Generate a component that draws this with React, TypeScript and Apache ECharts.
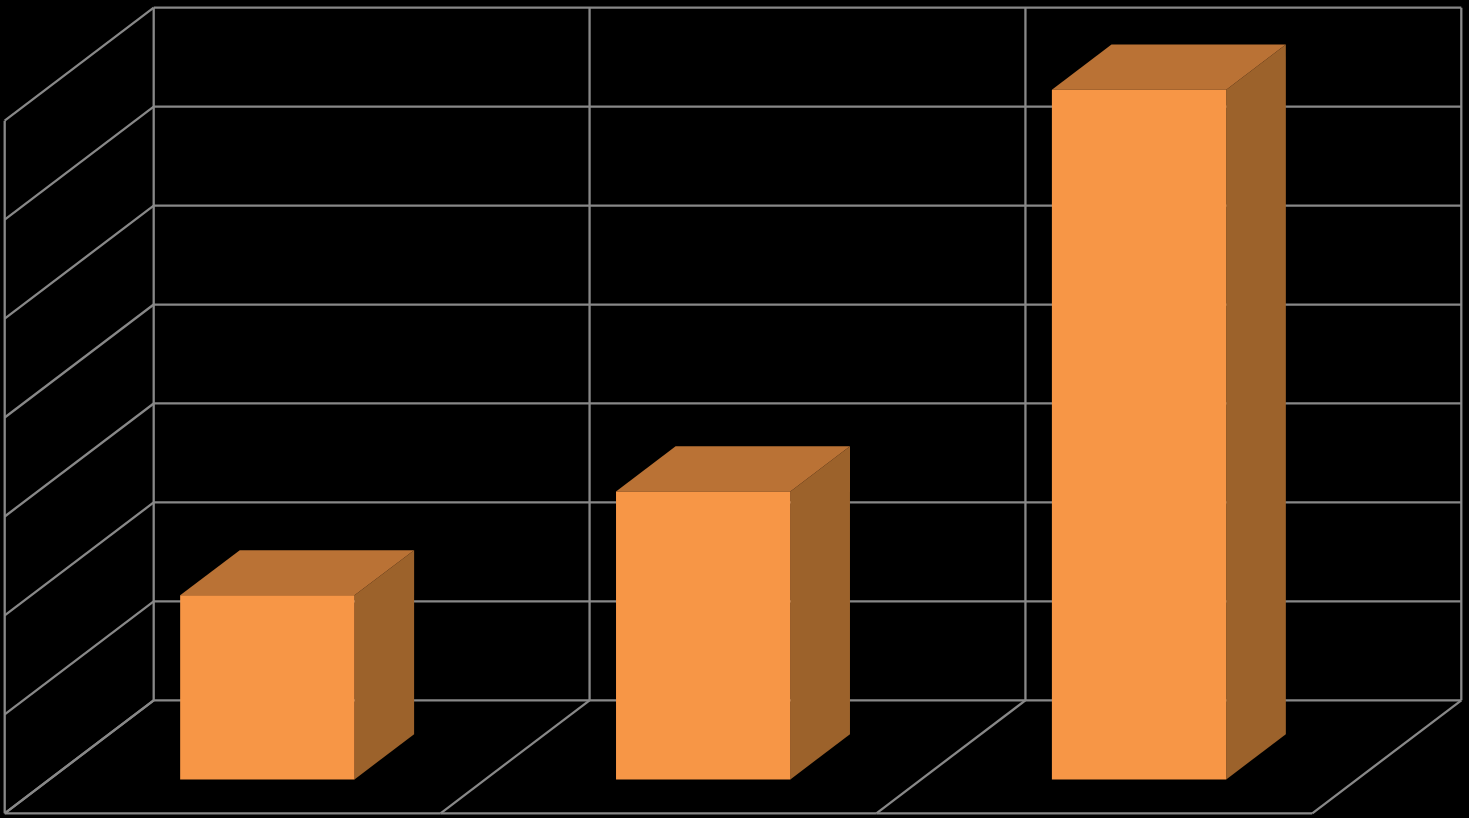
import React, { useEffect, useRef } from "react";
import * as echarts from "echarts";

const categories = ["1", "2", "3"];
const barValues = [1.86, 2.91, 6.97];
const yTicks = [0, 1, 2, 3, 4, 5, 6, 7];

const DEPTH_X = 149;
const DEPTH_Y = -113;
const BAR_DEPTH_START = 0.3;
const BAR_DEPTH_END = 0.7;
const BAR_WIDTH_RATIO = 0.4;
const LINE = "#888888";
const LINE_WIDTH = 2.3;

const lineEl = (x1: number, y1: number, x2: number, y2: number) => ({
  type: "line",
  shape: { x1, y1, x2, y2 },
  style: { stroke: LINE, lineWidth: LINE_WIDTH, fill: "none" },
  silent: true,
});

const poly = (points: number[][], fill: string) => ({
  type: "polygon",
  shape: { points },
  style: { fill, stroke: "none", lineWidth: 0 },
  silent: true,
});

export default function App() {
  const ref = useRef<HTMLDivElement>(null);
  useEffect(() => {
    document.body.style.margin = "0";
    document.body.style.background = "#000";
    const chart = echarts.init(ref.current!, undefined, { renderer: "svg" });
    chart.setOption({
      animation: false,
      backgroundColor: "#000000",
      tooltip: { show: false },
      grid: { left: 4.7, top: 120.7, width: 1307.6, height: 692.6 },
      xAxis: { type: "category", data: categories, show: false, boundaryGap: true },
      yAxis: { type: "value", min: 0, max: 7, interval: 1, show: false },
      series: [
        {
          // Value gridlines: left wall diagonal + back wall horizontal
          type: "custom",
          z: 1,
          clip: false,
          data: yTicks.map((t) => [0, t]),
          renderItem: (_p: any, api: any) => {
            const y = api.coord([0, api.value(1)])[1];
            const band = api.size([1, 0])[0];
            const x0 = api.coord([0, 0])[0] - band / 2;
            const xEnd = x0 + band * categories.length;
            return {
              type: "group",
              children: [
                lineEl(x0, y, x0 + DEPTH_X, y + DEPTH_Y),
                lineEl(x0 + DEPTH_X, y + DEPTH_Y, xEnd + DEPTH_X, y + DEPTH_Y),
              ],
            };
          },
        },
        {
          // Category boundaries: floor diagonal + back wall vertical
          type: "custom",
          z: 1,
          clip: false,
          data: categories.map((_c, i) => [i, 0]),
          renderItem: (_p: any, api: any) => {
            const idx = api.value(0);
            const band = api.size([1, 0])[0];
            const [cx, y0] = api.coord([idx, 0]);
            const yTop = api.coord([idx, 7])[1];
            const boundary = (x: number) => [
              lineEl(x, y0, x + DEPTH_X, y0 + DEPTH_Y),
              lineEl(x + DEPTH_X, y0 + DEPTH_Y, x + DEPTH_X, yTop + DEPTH_Y),
            ];
            const children = boundary(cx - band / 2);
            if (idx === categories.length - 1) children.push(...boundary(cx + band / 2));
            if (idx === 0) {
              children.push(lineEl(cx - band / 2, y0, cx - band / 2, yTop));
            }
            children.push(lineEl(cx - band / 2, y0, cx + band / 2, y0));
            return { type: "group", children };
          },
        },
        {
          // 3D bars
          type: "custom",
          z: 2,
          clip: false,
          data: barValues.map((v, i) => [i, v]),
          renderItem: (_p: any, api: any) => {
            const idx = api.value(0);
            const [cx, yv] = api.coord([idx, api.value(1)]);
            const y0 = api.coord([idx, 0])[1];
            const band = api.size([1, 0])[0];
            const w = band * BAR_WIDTH_RATIO;
            const sx = DEPTH_X * BAR_DEPTH_START;
            const sy = DEPTH_Y * BAR_DEPTH_START;
            const ex = DEPTH_X * BAR_DEPTH_END;
            const ey = DEPTH_Y * BAR_DEPTH_END;
            const l = cx - w / 2;
            const r = cx + w / 2;
            return {
              type: "group",
              children: [
                poly(
                  [[r + sx, yv + sy], [r + ex, yv + ey], [r + ex, y0 + ey], [r + sx, y0 + sy]],
                  "#9C622B"
                ),
                poly(
                  [[l + sx, yv + sy], [l + ex, yv + ey], [r + ex, yv + ey], [r + sx, yv + sy]],
                  "#BA7235"
                ),
                poly(
                  [[l + sx, yv + sy], [r + sx, yv + sy], [r + sx, y0 + sy], [l + sx, y0 + sy]],
                  "#F79646"
                ),
              ],
            };
          },
        },
      ],
    });
    return () => chart.dispose();
  }, []);
  return <div ref={ref} style={{ width: 1469, height: 818 }} />;
}
